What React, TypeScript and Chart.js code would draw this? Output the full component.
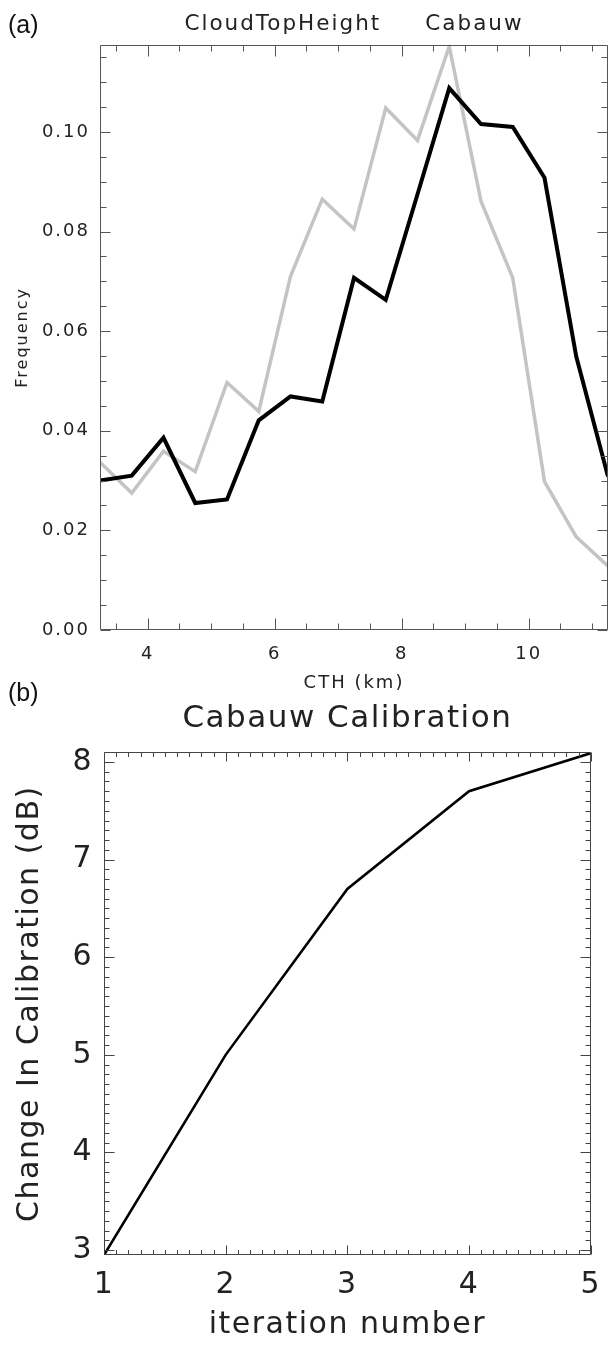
import { useEffect, useRef } from "react";
import { Chart, registerables } from "chart.js";

Chart.register(...registerables);

// ---------- Panel (a): cloud top height frequency ----------
const cthKm = [3.25, 3.75, 4.25, 4.75, 5.25, 5.75, 6.25, 6.75, 7.25, 7.75, 8.25, 8.75, 9.25, 9.75, 10.25, 10.75, 11.25];
const freqBlack = [0.03, 0.031, 0.0386, 0.0255, 0.0262, 0.0421, 0.0469, 0.0459, 0.0707, 0.0663, 0.0875, 0.1088, 0.1016, 0.101, 0.0908, 0.0549, 0.0308];
const freqGray = [0.0337, 0.0275, 0.0359, 0.0318, 0.0497, 0.0439, 0.071, 0.0865, 0.0805, 0.1048, 0.0983, 0.1172, 0.0861, 0.0707, 0.0298, 0.0187, 0.0128];
const freqTickValues = [0, 0.02, 0.04, 0.06, 0.08, 0.1];
const cthTickValues = [4, 6, 8, 10];

// ---------- Panel (b): calibration ----------
const iterationNumber = [1, 2, 3, 4, 5];
const calibrationChangeDb = [2.95, 5.0, 6.7, 7.7, 8.09];
const calibTickValues = [3, 4, 5, 6, 7, 8];
const iterTickValues = [1, 2, 3, 4, 5];

const FONT = '"DejaVu Sans", "Noto Sans", sans-serif';
const TEXT = "#222";

type FrameCfg = {
  color: string;
  xStep: number;
  yStep: number;
  xMajor: number[];
  yMajor: number[];
  xMajorLen: number;
  xMinorLen: number;
  yMajorLen: number;
  yMinorLen: number;
};

function stepsIn(min: number, max: number, step: number): number[] {
  const out: number[] = [];
  const start = Math.ceil(min / step - 1e-9);
  const end = Math.floor(max / step + 1e-9);
  for (let i = start; i <= end; i++) out.push(+(i * step).toFixed(6));
  return out;
}

function framePlugin(cfg: FrameCfg) {
  return {
    id: "idlFrame",
    afterDatasetsDraw(chart: any) {
      const { ctx, chartArea: a, scales } = chart;
      const xs = scales.x;
      const ys = scales.y;
      const L = Math.round(a.left) + 0.5;
      const R = Math.round(a.right) - 0.5;
      const T = Math.round(a.top) + 0.5;
      const B = Math.round(a.bottom) - 0.5;
      ctx.save();
      ctx.strokeStyle = cfg.color;
      ctx.lineWidth = 1;
      ctx.beginPath();
      ctx.rect(L, T, R - L, B - T);
      const isMaj = (v: number, list: number[]) => list.some((m) => Math.abs(m - v) < 1e-6);
      for (const v of stepsIn(xs.min, xs.max, cfg.xStep)) {
        const px = Math.round(xs.getPixelForValue(v)) + 0.5;
        const len = isMaj(v, cfg.xMajor) ? cfg.xMajorLen : cfg.xMinorLen;
        ctx.moveTo(px, B);
        ctx.lineTo(px, B - len);
        ctx.moveTo(px, T);
        ctx.lineTo(px, T + len);
      }
      for (const v of stepsIn(ys.min, ys.max, cfg.yStep)) {
        const py = Math.round(ys.getPixelForValue(v)) + 0.5;
        const len = isMaj(v, cfg.yMajor) ? cfg.yMajorLen : cfg.yMinorLen;
        ctx.moveTo(L, py);
        ctx.lineTo(L + len, py);
        ctx.moveTo(R, py);
        ctx.lineTo(R - len, py);
      }
      ctx.stroke();
      ctx.restore();
    },
  };
}

function spacingPlugin(spacing: string) {
  return {
    id: "letterSpacing",
    beforeUpdate(chart: any) {
      chart.ctx.letterSpacing = spacing;
    },
    beforeDraw(chart: any) {
      chart.ctx.letterSpacing = spacing;
    },
  };
}

function FrequencyChart() {
  const ref = useRef<HTMLCanvasElement | null>(null);
  useEffect(() => {
    if (!ref.current) return;
    const chart = new Chart(ref.current, {
      type: "line",
      data: {
        datasets: [
          {
            label: "black",
            data: cthKm.map((x, i) => ({ x, y: freqBlack[i] })),
            borderColor: "#000000",
            borderWidth: 4,
            pointRadius: 0,
            tension: 0,
            borderJoinStyle: "miter",
          },
          {
            label: "gray",
            data: cthKm.map((x, i) => ({ x, y: freqGray[i] })),
            borderColor: "#c4c4c4",
            borderWidth: 3.5,
            pointRadius: 0,
            tension: 0,
            borderJoinStyle: "miter",
          },
        ],
      },
      options: {
        animation: false,
        responsive: false,
        events: [],
        layout: { padding: { left: 0, right: 5, top: 0, bottom: 0 } },
        plugins: {
          legend: { display: false },
          tooltip: { enabled: false },
          title: {
            display: true,
            fullSize: false,
            text: "CloudTopHeight     Cabauw",
            color: TEXT,
            font: { family: FONT, size: 21.5, weight: "normal" as any, lineHeight: 1.2 },
            padding: { top: 12, bottom: 7 },
          },
        },
        scales: {
          x: {
            type: "linear",
            min: 3.25,
            max: 11.25,
            grid: { display: false, drawTicks: false },
            border: { display: false },
            afterBuildTicks: (s: any) => {
              s.ticks = cthTickValues.map((v) => ({ value: v }));
            },
            afterFit: (s: any) => {
              s.height = 70;
            },
            ticks: {
              autoSkip: false,
              maxRotation: 0,
              padding: 14,
              color: TEXT,
              font: { family: FONT, size: 18, lineHeight: 1.2 },
              callback: (v: any) => String(v),
            },
            title: {
              display: true,
              text: "CTH (km)",
              color: TEXT,
              font: { family: FONT, size: 18, lineHeight: 1.2 },
              padding: { top: 0, bottom: 6 },
            },
          },
          y: {
            type: "linear",
            min: 0,
            max: 0.1175,
            grid: { display: false, drawTicks: false },
            border: { display: false },
            afterBuildTicks: (s: any) => {
              s.ticks = freqTickValues.map((v) => ({ value: v }));
            },
            afterFit: (s: any) => {
              s.width = 100;
            },
            ticks: {
              autoSkip: false,
              padding: 10,
              color: TEXT,
              font: { family: FONT, size: 18, lineHeight: 1.2 },
              callback: (v: any) => Number(v).toFixed(2),
            },
            title: {
              display: true,
              text: "Frequency",
              color: TEXT,
              font: { family: FONT, size: 16, lineHeight: 1.2 },
              padding: { top: 13, bottom: 0 },
            },
          },
        },
      },
      plugins: [
        spacingPlugin("2px"),
        framePlugin({
          color: "#555",
          xStep: 0.5,
          yStep: 0.005,
          xMajor: cthTickValues,
          yMajor: freqTickValues,
          xMajorLen: 11,
          xMinorLen: 6,
          yMajorLen: 10,
          yMinorLen: 6,
        }),
      ],
    } as any);
    return () => chart.destroy();
  }, []);
  return (
    <canvas
      ref={ref}
      width={613}
      height={700}
      style={{ position: "absolute", left: 0, top: 0, width: 613, height: 700 }}
    />
  );
}

function CalibrationChart() {
  const ref = useRef<HTMLCanvasElement | null>(null);
  useEffect(() => {
    if (!ref.current) return;
    const chart = new Chart(ref.current, {
      type: "line",
      data: {
        datasets: [
          {
            label: "calibration",
            data: iterationNumber.map((x, i) => ({ x, y: calibrationChangeDb[i] })),
            borderColor: "#000000",
            borderWidth: 2.6,
            pointRadius: 0,
            tension: 0,
          },
        ],
      },
      options: {
        animation: false,
        responsive: false,
        events: [],
        layout: { padding: { left: 0, right: 10, top: 0, bottom: 0 } },
        plugins: {
          legend: { display: false },
          tooltip: { enabled: false },
          title: {
            display: true,
            fullSize: false,
            text: "Cabauw Calibration",
            color: TEXT,
            font: { family: FONT, size: 31, weight: "normal" as any, lineHeight: 1.2 },
            padding: { top: 10, bottom: 15 },
          },
        },
        scales: {
          x: {
            type: "linear",
            min: 1,
            max: 5,
            grid: { display: false, drawTicks: false },
            border: { display: false },
            afterBuildTicks: (s: any) => {
              s.ticks = iterTickValues.map((v) => ({ value: v }));
            },
            afterFit: (s: any) => {
              s.height = 95;
            },
            ticks: {
              autoSkip: false,
              maxRotation: 0,
              padding: 12,
              color: TEXT,
              font: { family: FONT, size: 30, lineHeight: 1.2 },
              callback: (v: any) => String(v),
            },
            title: {
              display: true,
              text: "iteration number",
              color: TEXT,
              font: { family: FONT, size: 30, lineHeight: 1.2 },
              padding: { top: 0, bottom: 7 },
            },
          },
          y: {
            type: "linear",
            min: 2.95,
            max: 8.1,
            grid: { display: false, drawTicks: false },
            border: { display: false },
            afterBuildTicks: (s: any) => {
              s.ticks = calibTickValues.map((v) => ({ value: v }));
            },
            afterFit: (s: any) => {
              s.width = 104;
            },
            ticks: {
              autoSkip: false,
              padding: 11,
              color: TEXT,
              font: { family: FONT, size: 30, lineHeight: 1.2 },
              callback: (v: any) => String(v),
            },
            title: {
              display: true,
              text: "Change In Calibration (dB)",
              color: TEXT,
              font: { family: FONT, size: 30, lineHeight: 1.2 },
              padding: { top: 12, bottom: 0 },
            },
          },
        },
      },
      plugins: [
        spacingPlugin("1.5px"),
        framePlugin({
          color: "#444",
          xStep: 0.1,
          yStep: 0.1,
          xMajor: iterTickValues,
          yMajor: calibTickValues,
          xMajorLen: 9,
          xMinorLen: 4.5,
          yMajorLen: 10,
          yMinorLen: 5,
        }),
      ],
    } as any);
    return () => chart.destroy();
  }, []);
  return (
    <canvas
      ref={ref}
      width={613}
      height={660}
      style={{ position: "absolute", left: 0, top: 690, width: 613, height: 660 }}
    />
  );
}

const panelLabel: React.CSSProperties = {
  position: "absolute",
  left: 8,
  fontFamily: '"Liberation Sans", Arial, sans-serif',
  fontSize: 25,
  lineHeight: "28px",
  color: "#111",
};

export default function App() {
  return (
    <div
      style={{
        position: "absolute",
        left: 0,
        top: 0,
        width: 613,
        height: 1350,
        background: "#ffffff",
        overflow: "hidden",
      }}
    >
      <FrequencyChart />
      <CalibrationChart />
      <div style={{ ...panelLabel, top: 10 }}>(a)</div>
      <div style={{ ...panelLabel, top: 678 }}>(b)</div>
    </div>
  );
}
